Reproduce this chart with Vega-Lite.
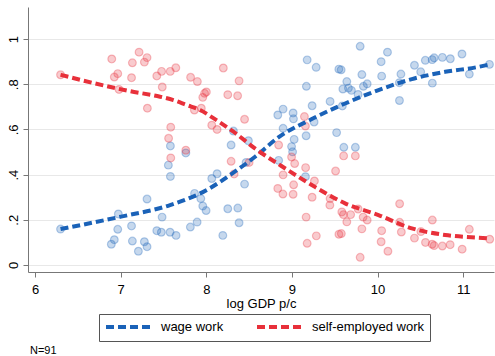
{
  "$schema": "https://vega.github.io/schema/vega-lite/v6.json",
  "autosize": {"type": "none"},
  "width": 466,
  "height": 265,
  "padding": {"left": 28, "top": 7, "right": 1, "bottom": 84},
  "background": "white",
  "title": {
    "text": "N=91",
    "orient": "bottom",
    "anchor": "start",
    "frame": "group",
    "offset": 3,
    "dx": 2,
    "font": "Liberation Sans",
    "fontSize": 11,
    "fontWeight": "normal",
    "color": "#000"
  },
  "config": {
    "view": {"stroke": null},
    "axis": {
      "domainColor": "#777",
      "tickColor": "#777",
      "tickSize": 5,
      "labelFont": "Liberation Sans",
      "titleFont": "Liberation Sans",
      "labelFontSize": 13,
      "titleFontSize": 13,
      "labelColor": "#000",
      "titleColor": "#000",
      "titleFontWeight": "normal",
      "gridColor": "#e8e8e8",
      "gridWidth": 1
    }
  },
  "datasets": {
    "obs": [
      {"gdp": 6.298, "share": 0.159, "series": "wage work"},
      {"gdp": 6.973, "share": 0.226, "series": "wage work"},
      {"gdp": 6.966, "share": 0.158, "series": "wage work"},
      {"gdp": 6.926, "share": 0.112, "series": "wage work"},
      {"gdp": 6.891, "share": 0.092, "series": "wage work"},
      {"gdp": 7.127, "share": 0.173, "series": "wage work"},
      {"gdp": 7.137, "share": 0.106, "series": "wage work"},
      {"gdp": 7.207, "share": 0.061, "series": "wage work"},
      {"gdp": 7.277, "share": 0.103, "series": "wage work"},
      {"gdp": 7.308, "share": 0.081, "series": "wage work"},
      {"gdp": 7.308, "share": 0.292, "series": "wage work"},
      {"gdp": 7.422, "share": 0.152, "series": "wage work"},
      {"gdp": 7.475, "share": 0.145, "series": "wage work"},
      {"gdp": 7.484, "share": 0.212, "series": "wage work"},
      {"gdp": 7.577, "share": 0.145, "series": "wage work"},
      {"gdp": 7.647, "share": 0.131, "series": "wage work"},
      {"gdp": 7.581, "share": 0.392, "series": "wage work"},
      {"gdp": 7.557, "share": 0.442, "series": "wage work"},
      {"gdp": 7.581, "share": 0.527, "series": "wage work"},
      {"gdp": 7.761, "share": 0.496, "series": "wage work"},
      {"gdp": 7.814, "share": 0.168, "series": "wage work"},
      {"gdp": 7.863, "share": 0.317, "series": "wage work"},
      {"gdp": 7.936, "share": 0.294, "series": "wage work"},
      {"gdp": 7.959, "share": 0.261, "series": "wage work"},
      {"gdp": 7.998, "share": 0.241, "series": "wage work"},
      {"gdp": 7.893, "share": 0.190, "series": "wage work"},
      {"gdp": 8.064, "share": 0.383, "series": "wage work"},
      {"gdp": 8.126, "share": 0.404, "series": "wage work"},
      {"gdp": 8.193, "share": 0.131, "series": "wage work"},
      {"gdp": 8.251, "share": 0.249, "series": "wage work"},
      {"gdp": 8.368, "share": 0.252, "series": "wage work"},
      {"gdp": 8.383, "share": 0.187, "series": "wage work"},
      {"gdp": 8.447, "share": 0.358, "series": "wage work"},
      {"gdp": 8.290, "share": 0.531, "series": "wage work"},
      {"gdp": 8.317, "share": 0.593, "series": "wage work"},
      {"gdp": 8.492, "share": 0.550, "series": "wage work"},
      {"gdp": 8.465, "share": 0.454, "series": "wage work"},
      {"gdp": 8.845, "share": 0.463, "series": "wage work"},
      {"gdp": 8.996, "share": 0.524, "series": "wage work"},
      {"gdp": 9.008, "share": 0.501, "series": "wage work"},
      {"gdp": 9.158, "share": 0.391, "series": "wage work"},
      {"gdp": 9.026, "share": 0.556, "series": "wage work"},
      {"gdp": 9.166, "share": 0.572, "series": "wage work"},
      {"gdp": 8.897, "share": 0.605, "series": "wage work"},
      {"gdp": 9.259, "share": 0.633, "series": "wage work"},
      {"gdp": 9.018, "share": 0.647, "series": "wage work"},
      {"gdp": 9.014, "share": 0.673, "series": "wage work"},
      {"gdp": 8.897, "share": 0.690, "series": "wage work"},
      {"gdp": 8.835, "share": 0.664, "series": "wage work"},
      {"gdp": 9.236, "share": 0.705, "series": "wage work"},
      {"gdp": 9.169, "share": 0.791, "series": "wage work"},
      {"gdp": 9.178, "share": 0.908, "series": "wage work"},
      {"gdp": 9.283, "share": 0.875, "series": "wage work"},
      {"gdp": 9.446, "share": 0.724, "series": "wage work"},
      {"gdp": 9.589, "share": 0.704, "series": "wage work"},
      {"gdp": 9.522, "share": 0.586, "series": "wage work"},
      {"gdp": 9.606, "share": 0.521, "series": "wage work"},
      {"gdp": 9.741, "share": 0.521, "series": "wage work"},
      {"gdp": 9.548, "share": 0.867, "series": "wage work"},
      {"gdp": 9.575, "share": 0.864, "series": "wage work"},
      {"gdp": 9.797, "share": 0.968, "series": "wage work"},
      {"gdp": 10.116, "share": 0.942, "series": "wage work"},
      {"gdp": 10.042, "share": 0.900, "series": "wage work"},
      {"gdp": 9.817, "share": 0.843, "series": "wage work"},
      {"gdp": 10.048, "share": 0.836, "series": "wage work"},
      {"gdp": 9.641, "share": 0.812, "series": "wage work"},
      {"gdp": 9.595, "share": 0.779, "series": "wage work"},
      {"gdp": 9.660, "share": 0.783, "series": "wage work"},
      {"gdp": 9.695, "share": 0.773, "series": "wage work"},
      {"gdp": 9.773, "share": 0.755, "series": "wage work"},
      {"gdp": 9.835, "share": 0.791, "series": "wage work"},
      {"gdp": 9.879, "share": 0.802, "series": "wage work"},
      {"gdp": 10.273, "share": 0.845, "series": "wage work"},
      {"gdp": 10.255, "share": 0.807, "series": "wage work"},
      {"gdp": 10.256, "share": 0.728, "series": "wage work"},
      {"gdp": 10.431, "share": 0.884, "series": "wage work"},
      {"gdp": 10.504, "share": 0.855, "series": "wage work"},
      {"gdp": 10.558, "share": 0.906, "series": "wage work"},
      {"gdp": 10.638, "share": 0.909, "series": "wage work"},
      {"gdp": 10.661, "share": 0.917, "series": "wage work"},
      {"gdp": 10.757, "share": 0.919, "series": "wage work"},
      {"gdp": 10.850, "share": 0.913, "series": "wage work"},
      {"gdp": 10.986, "share": 0.934, "series": "wage work"},
      {"gdp": 10.640, "share": 0.805, "series": "wage work"},
      {"gdp": 11.072, "share": 0.845, "series": "wage work"},
      {"gdp": 11.307, "share": 0.888, "series": "wage work"},
      {"gdp": 6.298, "share": 0.842, "series": "self-employed work"},
      {"gdp": 6.896, "share": 0.912, "series": "self-employed work"},
      {"gdp": 7.215, "share": 0.942, "series": "self-employed work"},
      {"gdp": 7.308, "share": 0.918, "series": "self-employed work"},
      {"gdp": 7.277, "share": 0.898, "series": "self-employed work"},
      {"gdp": 7.137, "share": 0.895, "series": "self-employed work"},
      {"gdp": 6.966, "share": 0.847, "series": "self-employed work"},
      {"gdp": 6.926, "share": 0.832, "series": "self-employed work"},
      {"gdp": 7.127, "share": 0.829, "series": "self-employed work"},
      {"gdp": 6.981, "share": 0.777, "series": "self-employed work"},
      {"gdp": 7.422, "share": 0.837, "series": "self-employed work"},
      {"gdp": 7.478, "share": 0.857, "series": "self-employed work"},
      {"gdp": 7.579, "share": 0.857, "series": "self-employed work"},
      {"gdp": 7.644, "share": 0.873, "series": "self-employed work"},
      {"gdp": 7.486, "share": 0.788, "series": "self-employed work"},
      {"gdp": 7.312, "share": 0.694, "series": "self-employed work"},
      {"gdp": 7.585, "share": 0.610, "series": "self-employed work"},
      {"gdp": 7.560, "share": 0.561, "series": "self-employed work"},
      {"gdp": 7.585, "share": 0.474, "series": "self-employed work"},
      {"gdp": 7.761, "share": 0.508, "series": "self-employed work"},
      {"gdp": 7.817, "share": 0.831, "series": "self-employed work"},
      {"gdp": 7.896, "share": 0.812, "series": "self-employed work"},
      {"gdp": 8.199, "share": 0.872, "series": "self-employed work"},
      {"gdp": 8.383, "share": 0.815, "series": "self-employed work"},
      {"gdp": 8.001, "share": 0.766, "series": "self-employed work"},
      {"gdp": 7.980, "share": 0.760, "series": "self-employed work"},
      {"gdp": 7.959, "share": 0.742, "series": "self-employed work"},
      {"gdp": 7.942, "share": 0.694, "series": "self-employed work"},
      {"gdp": 7.861, "share": 0.686, "series": "self-employed work"},
      {"gdp": 8.251, "share": 0.754, "series": "self-employed work"},
      {"gdp": 8.366, "share": 0.749, "series": "self-employed work"},
      {"gdp": 8.064, "share": 0.619, "series": "self-employed work"},
      {"gdp": 8.126, "share": 0.600, "series": "self-employed work"},
      {"gdp": 8.447, "share": 0.645, "series": "self-employed work"},
      {"gdp": 8.290, "share": 0.459, "series": "self-employed work"},
      {"gdp": 8.325, "share": 0.403, "series": "self-employed work"},
      {"gdp": 8.500, "share": 0.454, "series": "self-employed work"},
      {"gdp": 8.845, "share": 0.531, "series": "self-employed work"},
      {"gdp": 8.996, "share": 0.478, "series": "self-employed work"},
      {"gdp": 9.032, "share": 0.449, "series": "self-employed work"},
      {"gdp": 9.146, "share": 0.657, "series": "self-employed work"},
      {"gdp": 9.158, "share": 0.615, "series": "self-employed work"},
      {"gdp": 9.160, "share": 0.431, "series": "self-employed work"},
      {"gdp": 8.897, "share": 0.399, "series": "self-employed work"},
      {"gdp": 9.263, "share": 0.372, "series": "self-employed work"},
      {"gdp": 8.835, "share": 0.339, "series": "self-employed work"},
      {"gdp": 8.895, "share": 0.314, "series": "self-employed work"},
      {"gdp": 9.020, "share": 0.355, "series": "self-employed work"},
      {"gdp": 9.014, "share": 0.313, "series": "self-employed work"},
      {"gdp": 9.236, "share": 0.300, "series": "self-employed work"},
      {"gdp": 9.166, "share": 0.212, "series": "self-employed work"},
      {"gdp": 9.178, "share": 0.096, "series": "self-employed work"},
      {"gdp": 9.285, "share": 0.129, "series": "self-employed work"},
      {"gdp": 9.510, "share": 0.416, "series": "self-employed work"},
      {"gdp": 9.604, "share": 0.483, "series": "self-employed work"},
      {"gdp": 9.741, "share": 0.483, "series": "self-employed work"},
      {"gdp": 9.446, "share": 0.294, "series": "self-employed work"},
      {"gdp": 9.443, "share": 0.265, "series": "self-employed work"},
      {"gdp": 9.583, "share": 0.235, "series": "self-employed work"},
      {"gdp": 9.602, "share": 0.223, "series": "self-employed work"},
      {"gdp": 9.686, "share": 0.223, "series": "self-employed work"},
      {"gdp": 9.641, "share": 0.191, "series": "self-employed work"},
      {"gdp": 9.549, "share": 0.136, "series": "self-employed work"},
      {"gdp": 9.577, "share": 0.139, "series": "self-employed work"},
      {"gdp": 9.773, "share": 0.248, "series": "self-employed work"},
      {"gdp": 9.832, "share": 0.212, "series": "self-employed work"},
      {"gdp": 9.879, "share": 0.199, "series": "self-employed work"},
      {"gdp": 9.817, "share": 0.160, "series": "self-employed work"},
      {"gdp": 9.797, "share": 0.034, "series": "self-employed work"},
      {"gdp": 10.048, "share": 0.152, "series": "self-employed work"},
      {"gdp": 10.042, "share": 0.103, "series": "self-employed work"},
      {"gdp": 10.121, "share": 0.061, "series": "self-employed work"},
      {"gdp": 10.258, "share": 0.271, "series": "self-employed work"},
      {"gdp": 10.258, "share": 0.189, "series": "self-employed work"},
      {"gdp": 10.278, "share": 0.146, "series": "self-employed work"},
      {"gdp": 10.431, "share": 0.119, "series": "self-employed work"},
      {"gdp": 10.506, "share": 0.148, "series": "self-employed work"},
      {"gdp": 10.560, "share": 0.100, "series": "self-employed work"},
      {"gdp": 10.640, "share": 0.199, "series": "self-employed work"},
      {"gdp": 10.638, "share": 0.092, "series": "self-employed work"},
      {"gdp": 10.661, "share": 0.086, "series": "self-employed work"},
      {"gdp": 10.757, "share": 0.084, "series": "self-employed work"},
      {"gdp": 10.848, "share": 0.090, "series": "self-employed work"},
      {"gdp": 10.988, "share": 0.070, "series": "self-employed work"},
      {"gdp": 11.072, "share": 0.158, "series": "self-employed work"},
      {"gdp": 11.310, "share": 0.114, "series": "self-employed work"}
    ],
    "fit": [
      {"gdp": 6.298, "share": 0.159, "series": "wage work"},
      {"gdp": 7.005, "share": 0.214, "series": "wage work"},
      {"gdp": 7.577, "share": 0.265, "series": "wage work"},
      {"gdp": 8.006, "share": 0.332, "series": "wage work"},
      {"gdp": 8.317, "share": 0.409, "series": "wage work"},
      {"gdp": 8.570, "share": 0.479, "series": "wage work"},
      {"gdp": 8.842, "share": 0.565, "series": "wage work"},
      {"gdp": 9.232, "share": 0.646, "series": "wage work"},
      {"gdp": 9.621, "share": 0.715, "series": "wage work"},
      {"gdp": 10.011, "share": 0.774, "series": "wage work"},
      {"gdp": 10.401, "share": 0.823, "series": "wage work"},
      {"gdp": 10.790, "share": 0.855, "series": "wage work"},
      {"gdp": 11.179, "share": 0.877, "series": "wage work"},
      {"gdp": 11.307, "share": 0.888, "series": "wage work"},
      {"gdp": 6.298, "share": 0.842, "series": "self-employed work"},
      {"gdp": 6.697, "share": 0.804, "series": "self-employed work"},
      {"gdp": 7.086, "share": 0.771, "series": "self-employed work"},
      {"gdp": 7.460, "share": 0.745, "series": "self-employed work"},
      {"gdp": 7.616, "share": 0.730, "series": "self-employed work"},
      {"gdp": 7.772, "share": 0.708, "series": "self-employed work"},
      {"gdp": 7.928, "share": 0.686, "series": "self-employed work"},
      {"gdp": 8.083, "share": 0.650, "series": "self-employed work"},
      {"gdp": 8.317, "share": 0.590, "series": "self-employed work"},
      {"gdp": 8.590, "share": 0.510, "series": "self-employed work"},
      {"gdp": 8.862, "share": 0.442, "series": "self-employed work"},
      {"gdp": 9.232, "share": 0.354, "series": "self-employed work"},
      {"gdp": 9.621, "share": 0.273, "series": "self-employed work"},
      {"gdp": 10.011, "share": 0.221, "series": "self-employed work"},
      {"gdp": 10.401, "share": 0.162, "series": "self-employed work"},
      {"gdp": 10.790, "share": 0.133, "series": "self-employed work"},
      {"gdp": 11.179, "share": 0.121, "series": "self-employed work"},
      {"gdp": 11.307, "share": 0.118, "series": "self-employed work"}
    ]
  },
  "encoding": {
    "x": {
      "field": "gdp",
      "type": "quantitative",
      "scale": {"domain": [5.918, 11.36], "nice": false, "zero": false},
      "axis": {
        "values": [6, 7, 8, 9, 10, 11],
        "format": "d",
        "grid": false,
        "title": "log GDP p/c",
        "labelPadding": 6,
        "titlePadding": 1
      }
    },
    "y": {
      "field": "share",
      "type": "quantitative",
      "scale": {"domain": [-0.031, 1.142], "nice": false, "zero": false},
      "axis": {
        "values": [0, 0.2, 0.4, 0.6, 0.8, 1],
        "labelExpr": "datum.value == 0 ? '0' : datum.value == 1 ? '1' : '.' + round(datum.value * 10)",
        "labelAngle": -90,
        "labelPadding": 3,
        "grid": true,
        "title": null
      }
    }
  },
  "layer": [
    {
      "data": {"name": "obs"},
      "mark": {"type": "point", "filled": true, "size": 60, "fillOpacity": 0.25, "strokeOpacity": 0.3, "strokeWidth": 1.2},
      "encoding": {
        "fill": {
          "field": "series",
          "type": "nominal",
          "scale": {"domain": ["self-employed work", "wage work"], "range": ["#e8303a", "#1a62b8"]},
          "legend": null
        },
        "stroke": {
          "field": "series",
          "type": "nominal",
          "scale": {"domain": ["self-employed work", "wage work"], "range": ["#e8303a", "#1a62b8"]},
          "legend": null
        }
      }
    },
    {
      "data": {"name": "fit"},
      "mark": {"type": "line", "strokeWidth": 4, "strokeDash": [8, 4], "strokeCap": "butt", "interpolate": "monotone"},
      "encoding": {
        "color": {
          "field": "series",
          "type": "nominal",
          "scale": {"domain": ["wage work", "self-employed work"], "range": ["#1a62b8", "#e8303a"]},
          "sort": null,
          "legend": {
            "title": null,
            "orient": "none",
            "legendX": 71,
            "legendY": 307,
            "direction": "horizontal",
            "strokeColor": "#555",
            "padding": 6,
            "symbolType": "M-4.8,0H4.8",
            "symbolSize": 100,
            "symbolOffset": 18,
            "symbolStrokeWidth": 4,
            "symbolDash": [8, 4],
            "labelFont": "Liberation Sans",
            "labelFontSize": 13,
            "labelColor": "#000",
            "labelOffset": 24,
            "columnPadding": 25
          }
        }
      }
    }
  ]
}
